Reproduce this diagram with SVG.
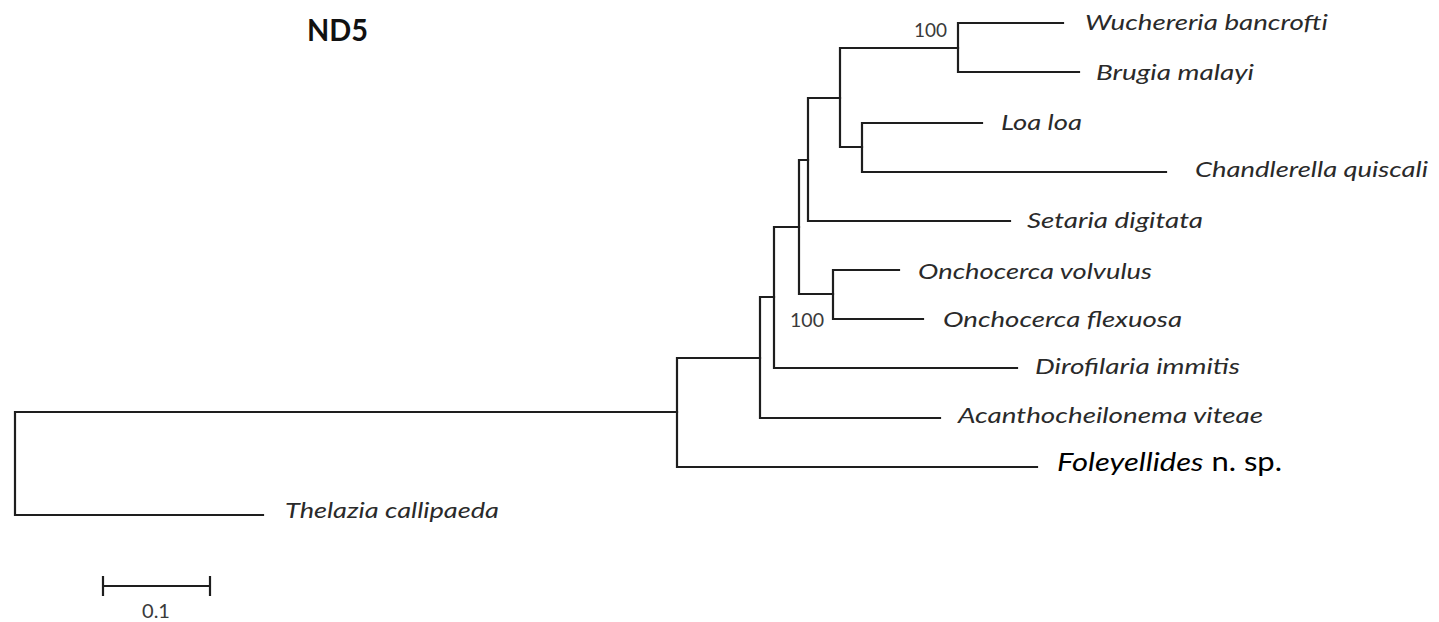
<svg xmlns="http://www.w3.org/2000/svg" width="1439" height="622" viewBox="0 0 1439 622">
<style>
.br{fill:none;stroke:#1e1e1e;stroke-width:2.2;stroke-linecap:square}
.tx{font-family:Lato,"Open Sans","Liberation Sans",sans-serif;font-style:italic;font-size:22px;fill:#2a2a2a}
.fol{font-family:Lato,"Open Sans","Liberation Sans",sans-serif;font-size:26px;fill:#000}
.bs{font-family:Lato,"Liberation Sans",sans-serif;font-size:19px;fill:#3a3a3a}
.title{font-family:Lato,"Open Sans","Liberation Sans",sans-serif;font-weight:bold;font-size:30px;fill:#111}
</style>
<rect width="1439" height="622" fill="#fff"/>
<text class="title" x="307" y="41" textLength="61" lengthAdjust="spacingAndGlyphs">ND5</text>
<g id="connectors" class="br">
<path d="M263,515H15V412H677"/>
<path d="M760,358H677V467H1037"/>
<path d="M774,297H760V418H940"/>
<path d="M799,227H774V368H1017"/>
<path d="M808,160H799V294H833"/>
<path d="M899,270H833V319H923"/>
<path d="M840,98H808V221H1010"/>
<path d="M958,48H840V147H862"/>
<path d="M1063,23H958V72H1079"/>
<path d="M982,123H862V172H1166"/>
</g>
<g id="support">
<text class="bs" x="914" y="37" textLength="33" lengthAdjust="spacingAndGlyphs">100</text>
<text class="bs" x="790" y="327" textLength="34" lengthAdjust="spacingAndGlyphs">100</text>
</g>
<g id="n-wuchereria"><text class="tx" x="1085" y="30" textLength="243" lengthAdjust="spacingAndGlyphs">Wuchereria bancrofti</text></g>
<g id="n-brugia"><text class="tx" x="1096" y="80" textLength="158" lengthAdjust="spacingAndGlyphs">Brugia malayi</text></g>
<g id="n-loa"><text class="tx" x="1001" y="130" textLength="81" lengthAdjust="spacingAndGlyphs">Loa loa</text></g>
<g id="n-chandlerella"><text class="tx" x="1195" y="177" textLength="233" lengthAdjust="spacingAndGlyphs">Chandlerella quiscali</text></g>
<g id="n-setaria"><text class="tx" x="1027" y="228" textLength="176" lengthAdjust="spacingAndGlyphs">Setaria digitata</text></g>
<g id="n-ovolvulus"><text class="tx" x="918" y="279" textLength="234" lengthAdjust="spacingAndGlyphs">Onchocerca volvulus</text></g>
<g id="n-oflexuosa"><text class="tx" x="943" y="327" textLength="239" lengthAdjust="spacingAndGlyphs">Onchocerca flexuosa</text></g>
<g id="n-dirofilaria"><text class="tx" x="1035" y="374" textLength="205" lengthAdjust="spacingAndGlyphs">Dirofilaria immitis</text></g>
<g id="n-acanthocheilonema"><text class="tx" x="958" y="423" textLength="305" lengthAdjust="spacingAndGlyphs">Acanthocheilonema viteae</text></g>
<g id="n-foleyellides"><text class="fol" x="1057" y="471" textLength="225" lengthAdjust="spacingAndGlyphs"><tspan font-style="italic">Foleyellides</tspan> n. sp.</text></g>
<g id="n-thelazia"><text class="tx" x="285" y="518" textLength="214" lengthAdjust="spacingAndGlyphs">Thelazia callipaeda</text></g>
<g id="scalebar">
<path class="br" d="M103,586H210M103,577V595M210,577V595"/>
<text class="bs" x="142" y="618" font-size="21" textLength="28" lengthAdjust="spacingAndGlyphs">0.1</text>
</g>
</svg>
